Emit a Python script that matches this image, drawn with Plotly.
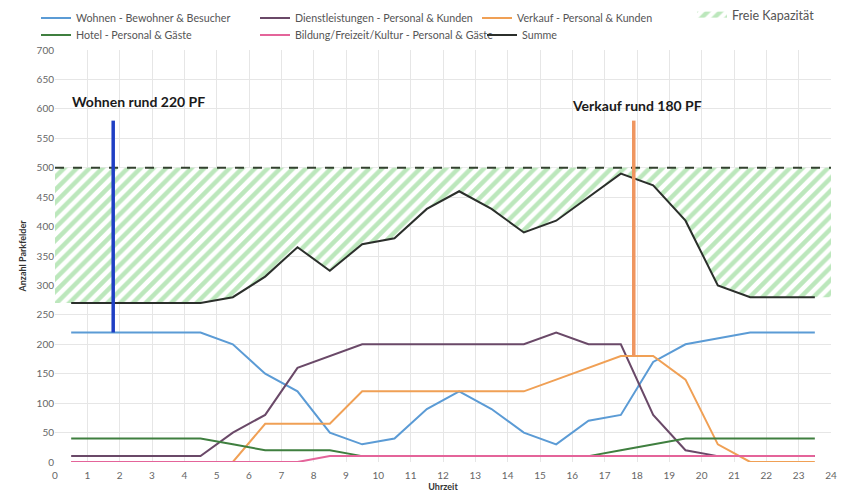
import plotly.graph_objects as go

# Half-hour sample points (time of day)
hours = [h + 0.5 for h in range(24)]

wohnen = [220, 220, 220, 220, 220, 200, 150, 120, 50, 30, 40, 90,
          120, 90, 50, 30, 70, 80, 170, 200, 210, 220, 220, 220]
dienstleistungen = [10, 10, 10, 10, 10, 50, 80, 160, 180, 200, 200, 200,
                    200, 200, 200, 220, 200, 200, 80, 20, 10, 10, 10, 10]
verkauf = [0, 0, 0, 0, 0, 0, 65, 65, 65, 120, 120, 120,
           120, 120, 120, 140, 160, 180, 180, 140, 30, 0, 0, 0]
hotel = [40, 40, 40, 40, 40, 30, 20, 20, 20, 10, 10, 10,
         10, 10, 10, 10, 10, 20, 30, 40, 40, 40, 40, 40]
bildung = [0, 0, 0, 0, 0, 0, 0, 0, 10, 10, 10, 10,
           10, 10, 10, 10, 10, 10, 10, 10, 10, 10, 10, 10]

kapazitaet = 500
wohnen_bedarf = 220
verkauf_bedarf = 180
marker_top = 580

summe = [a + b + c + d + e for a, b, c, d, e in zip(wohnen, dienstleistungen, verkauf, hotel, bildung)]

FONT = "Lato"
W, H = 843, 494
fig = go.Figure()

# Free capacity: hatched band between the total and the capacity limit
cap_x = [0] + hours + [24]
cap_base = [summe[0]] + summe + [summe[-1]]
fig.add_trace(go.Scatter(x=cap_x, y=cap_base, mode="lines", line=dict(width=0),
                         showlegend=False, hoverinfo="skip"))
fig.add_trace(go.Scatter(
    x=cap_x, y=[kapazitaet] * len(cap_x), mode="none", fill="tonexty",
    fillcolor="rgba(0,0,0,0)",
    fillpattern=dict(shape="/", fgcolor="#7ad07a", bgcolor="white", size=9, solidity=0.5),
    name="Freie Kapazität", legend="legend7"))
fig.add_trace(go.Scatter(x=[0, 24], y=[kapazitaet, kapazitaet], mode="lines",
                         line=dict(color="#33412f", width=2, dash="dash"),
                         showlegend=False, hoverinfo="skip"))

series = [
    ("Wohnen - Bewohner & Besucher", wohnen, "#5b9bd5", "legend"),
    ("Dienstleistungen - Personal & Kunden", dienstleistungen, "#6a4968", "legend2"),
    ("Verkauf - Personal & Kunden", verkauf, "#f0a055", "legend3"),
    ("Hotel - Personal & Gäste", hotel, "#3f7f3f", "legend4"),
    ("Bildung/Freizeit/Kultur - Personal & Gäste", bildung, "#e4649a", "legend5"),
]
for name, vals, col, lg in series:
    fig.add_trace(go.Scatter(x=hours, y=vals, mode="lines", name=name,
                             line=dict(color=col, width=2), legend=lg))

fig.add_trace(go.Scatter(x=hours, y=summe, mode="lines", name="Summe",
                         line=dict(color="#2b2f2b", width=2), legend="legend6"))

# Demand markers
fig.add_trace(go.Scatter(x=[1.8, 1.8], y=[wohnen_bedarf, marker_top], mode="lines",
                         line=dict(color="#1f3fc4", width=3.5), showlegend=False))
fig.add_trace(go.Scatter(x=[17.9, 17.9], y=[verkauf_bedarf, marker_top], mode="lines",
                         line=dict(color="#ef9660", width=3.5), showlegend=False))

fig.add_annotation(x=2.57, y=612, text=f"<b>Wohnen rund {wohnen_bedarf} PF</b>", showarrow=False,
                   font=dict(family=FONT, size=14, color="#1a1a1a"))
fig.add_annotation(x=18.0, y=606, text=f"<b>Verkauf rund {verkauf_bedarf} PF</b>", showarrow=False,
                   font=dict(family=FONT, size=14, color="#1a1a1a"))


def legend_at(px, py, size=10.7):
    """Single-entry legend whose box starts at pixel (px, py) of the page."""
    return dict(orientation="h", xanchor="left", yanchor="middle",
                xref="container", yref="container", x=px / W, y=1 - py / H,
                font=dict(family=FONT, size=size, color="#555555"),
                bgcolor="rgba(0,0,0,0)", itemwidth=30)


fig.update_layout(
    width=W, height=H,
    margin=dict(l=55, r=12, t=50, b=32, autoexpand=False),
    paper_bgcolor="white", plot_bgcolor="white",
    font=dict(family=FONT, size=10, color="#666666"),
    legend=legend_at(36, 18),
    legend2=legend_at(255, 18),
    legend3=legend_at(477, 18),
    legend4=legend_at(36, 35),
    legend5=legend_at(255, 35),
    legend6=legend_at(482, 35),
    legend7=legend_at(692, 15, size=12.5),
    xaxis=dict(range=[0, 24], dtick=1, tick0=0, showgrid=True, gridcolor="#e6e6e6",
               zeroline=False, showline=False, ticks="", ticklabelstandoff=6,
               tickfont=dict(family=FONT, size=10, color="#666666"),
               title=dict(text="<b>Uhrzeit</b>", font=dict(family=FONT, size=9, color="#333333"),
                          standoff=2)),
    yaxis=dict(range=[0, 700], dtick=50, showgrid=True, gridcolor="#e6e6e6",
               zeroline=False, showline=False, ticks="",
               tickfont=dict(family=FONT, size=10, color="#666666"),
               title=dict(text="<b>Anzahl Parkfelder</b>", font=dict(family=FONT, size=9, color="#333333"),
                          standoff=8)),
)

fig.write_html("out.html")
